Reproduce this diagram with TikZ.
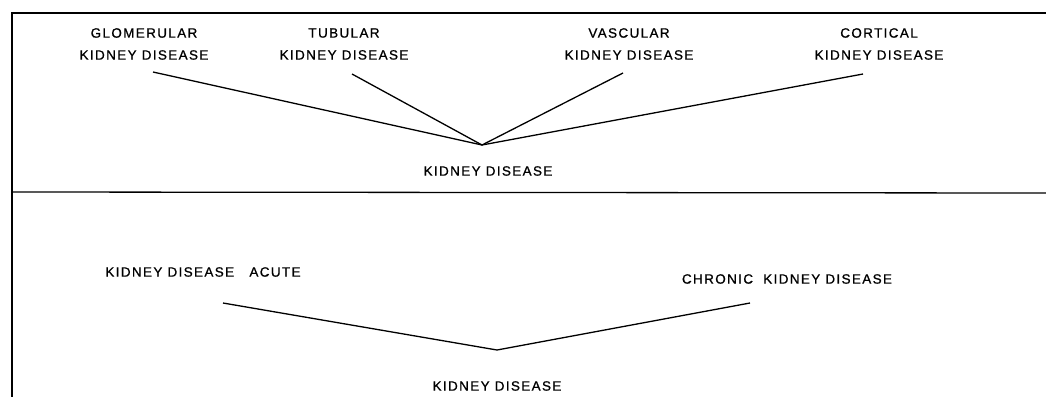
\documentclass[tikz,border=0pt]{standalone}
\usepackage{fontspec}
\setmainfont{Liberation Sans}[LetterSpace=10,FakeBold=0.8]
\begin{document}
\begin{tikzpicture}[x=1pt,y=-1pt,
  lbl/.style={inner sep=0pt, align=center, font=\fontsize{13.5}{22}\selectfont},
  conn/.style={line width=1.3pt},
  frame/.style={line width=1.3pt}]
\useasboundingbox (0,0) rectangle (1046,397);
% frame
\coordinate (tl) at (12,13);
\coordinate (tr) at (1046,13);
\coordinate (bl) at (12,397);
\coordinate (ml) at (12,192);
\coordinate (mr) at (1046,193);
\draw[frame] (tr) -- (tl) -- (bl);
\draw[frame] (ml) -- (mr);
% top section
\node[lbl] (glom) at (144,44) {GLOMERULAR\\KIDNEY DISEASE};
\node[lbl] (tub) at (344,44) {TUBULAR\\KIDNEY DISEASE};
\node[lbl] (vasc) at (629,44) {VASCULAR\\KIDNEY DISEASE};
\node[lbl] (cort) at (879,44) {CORTICAL\\KIDNEY DISEASE};
\node[lbl] (kd1) at (488,171) {KIDNEY DISEASE};
\coordinate (hub1) at (482,145);
\coordinate (g1) at (153,72);
\coordinate (t1) at (352,74);
\coordinate (v1) at (623,73);
\coordinate (c1) at (863,74);
\draw[conn] (g1) -- (hub1);
\draw[conn] (t1) -- (hub1);
\draw[conn] (v1) -- (hub1);
\draw[conn] (c1) -- (hub1);
% bottom section
\node[lbl] (acute) at (203,272) {KIDNEY DISEASE\ \ \ ACUTE};
\node[lbl] (chron) at (787,279) {CHRONIC\ \ KIDNEY DISEASE};
\node[lbl] (kd2) at (497,386) {KIDNEY DISEASE};
\coordinate (hub2) at (497,350);
\coordinate (a1) at (223,303);
\coordinate (ch1) at (750,303);
\draw[conn] (a1) -- (hub2);
\draw[conn] (ch1) -- (hub2);
\end{tikzpicture}
\end{document}
